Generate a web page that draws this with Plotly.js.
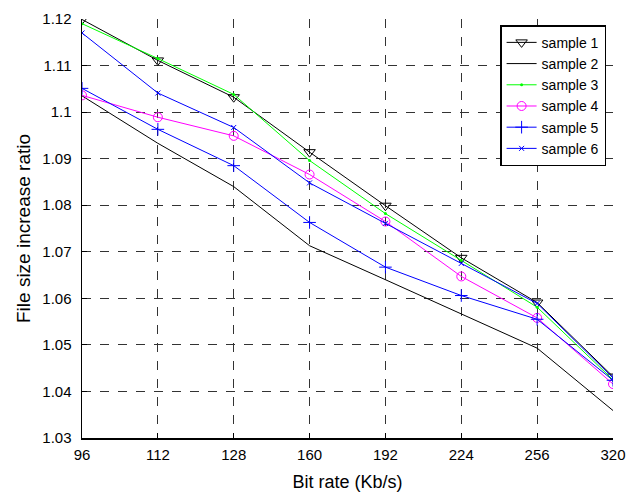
<!DOCTYPE html>
<html>
<head>
<meta charset="utf-8">
<script src="https://cdn.plot.ly/plotly-3.0.1.min.js"></script>
<style>html,body{margin:0;padding:0;background:#fff;}#chart{width:634px;height:492px;}</style>
</head>
<body>
<div id="chart"></div>
<script>
const bitRates = ['96','112','128','160','192','224','256','320'];
const sample1 = [1.1199, 1.1111, 1.1032, 1.0914, 1.0799, 1.0687, 1.0591, 1.0432];
const sample2 = [1.1035, 1.0933, 1.0840, 1.0713, 1.0640, 1.0567, 1.0493, 1.0359];
const sample3 = [1.1190, 1.1115, 1.1038, 1.0896, 1.0782, 1.0682, 1.0581, 1.0425];
const sample4 = [1.1036, 1.0989, 1.0949, 1.0866, 1.0765, 1.0647, 1.0558, 1.0416];
const sample5 = [1.1051, 1.0963, 1.0885, 1.0763, 1.0667, 1.0606, 1.0555, 1.0424];
const sample6 = [1.1170, 1.1041, 1.0967, 1.0848, 1.0761, 1.0675, 1.0589, 1.0429];
const yTicks = [1.03, 1.04, 1.05, 1.06, 1.07, 1.08, 1.09, 1.10, 1.11, 1.12];
const yTickText = ['1.03','1.04','1.05','1.06','1.07','1.08','1.09','1.1','1.11','1.12'];

const FONT = 'Liberation Sans, Arial, Helvetica, sans-serif';

const traces = [
  {name:'sample 1', y:sample1, line:{color:'#000000', width:1}, mode:'lines+markers',
   marker:{symbol:'triangle-down-open', size:10, color:'#000000', line:{width:1}}},
  {name:'sample 2', y:sample2, line:{color:'#000000', width:1}, mode:'lines'},
  {name:'sample 3', y:sample3, line:{color:'#00ff00', width:1}, mode:'lines+markers',
   marker:{symbol:'circle', size:3, color:'#00ff00'}},
  {name:'sample 4', y:sample4, line:{color:'#ff00ff', width:1}, mode:'lines+markers',
   marker:{symbol:'circle-open', size:9, color:'#ff00ff', line:{width:1}}},
  {name:'sample 5', y:sample5, line:{color:'#0000ff', width:1}, mode:'lines+markers',
   marker:{symbol:'cross-thin-open', size:9, color:'#0000ff', line:{width:1, color:'#0000ff'}}},
  {name:'sample 6', y:sample6, line:{color:'#0000ff', width:1}, mode:'lines+markers',
   marker:{symbol:'x-thin-open', size:5, color:'#0000ff', line:{width:1, color:'#0000ff'}}}
].map(t => Object.assign({type:'scatter', x:bitRates}, t));

const layout = {
  width:634, height:492,
  margin:{l:82, r:21, t:19, b:54},
  paper_bgcolor:'#ffffff', plot_bgcolor:'#ffffff',
  font:{family:FONT, size:15, color:'#000000'},
  showlegend:true,
  legend:{x:0.987, y:0.985, xanchor:'right', yanchor:'top',
          bgcolor:'#ffffff', bordercolor:'#000000', borderwidth:1.5,
          font:{family:FONT, size:14, color:'#000000'}, tracegroupgap:0},
  xaxis:{type:'category', range:[0,7], showline:true, linecolor:'#000000', linewidth:1.5,
         ticks:'inside', ticklen:5, tickcolor:'#000000',
         showgrid:true, gridcolor:'#333333', griddash:'dash', gridwidth:1,
         zeroline:false, tickfont:{family:FONT, size:15}, ticklabelstandoff:2,
         title:{text:'Bit rate (Kb/s)', font:{family:FONT, size:18}, standoff:14}},
  yaxis:{range:[1.03,1.12], tickvals:yTicks, ticktext:yTickText,
         showline:true, linecolor:'#000000', linewidth:1.5,
         ticks:'inside', ticklen:5, tickcolor:'#000000',
         showgrid:true, gridcolor:'#333333', griddash:'dash', gridwidth:1,
         zeroline:false, tickfont:{family:FONT, size:15}, ticklabelstandoff:6,
         title:{text:'File size increase ratio', font:{family:FONT, size:19}, standoff:6}}
};

Plotly.newPlot('chart', traces, layout, {displayModeBar:false, staticPlot:true});
</script>
</body>
</html>
